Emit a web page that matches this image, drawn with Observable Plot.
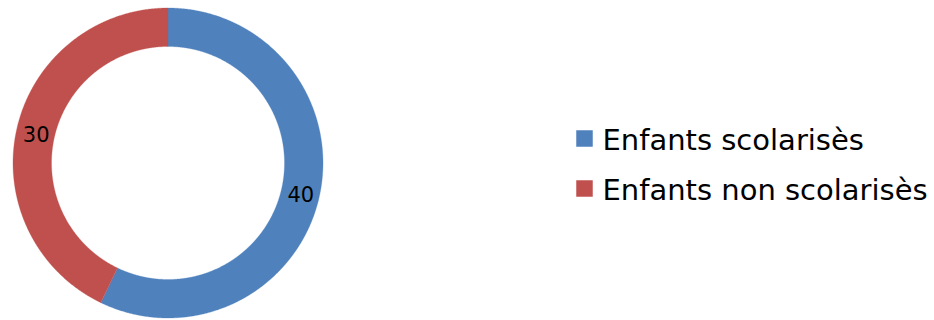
<!DOCTYPE html>
<html>
<head>
<meta charset="utf-8">
<script src="https://cdn.jsdelivr.net/npm/d3@7"></script>
<script src="https://cdn.jsdelivr.net/npm/@observablehq/plot@0.6"></script>
<style>
  html, body { margin: 0; padding: 0; background: #ffffff; }
  #chart svg { display: block; }
</style>
</head>
<body>
<div id="chart"></div>
<script>
// ---- data ----
const categories = ["Enfants scolarisès", "Enfants non scolarisès"];
const values = [40, 30];
const colors = ["#4F81BD", "#C0504D"];

// ---- layout (pixel-based units) ----
const W = 934, H = 320;
const cx = 168, cy = 163;       // donut centre in px
const R = 155, r = 116.5;       // outer / inner radius in px

const rows = categories.map((c, i) => ({cat: c, value: values[i]}));
const arcs = d3.pie().sort(null).value(d => d.value).startAngle(0).endAngle(2 * Math.PI)(rows);

// ring polygons: outer edge (x1,y1) and inner edge (x2,y2) along each arc
const ring = [];
for (const a of arcs) {
  const n = Math.max(2, Math.ceil((a.endAngle - a.startAngle) / 0.005));
  for (let k = 0; k <= n; k++) {
    const t = a.startAngle + (a.endAngle - a.startAngle) * k / n;
    ring.push({
      cat: a.data.cat,
      x1: R * Math.sin(t), y1: R * Math.cos(t),
      x2: r * Math.sin(t), y2: r * Math.cos(t)
    });
  }
}

// value labels at the middle of each ring segment
const labels = arcs.map(a => {
  const t = (a.startAngle + a.endAngle) / 2, m = (R + r) / 2;
  return {cat: a.data.cat, value: a.data.value, x: m * Math.sin(t), y: m * Math.cos(t)};
});

const font = "'DejaVu Sans', Verdana, sans-serif";

const chart = Plot.plot({
  width: W,
  height: H,
  margin: 0,
  style: {fontFamily: font, background: "#ffffff", overflow: "visible"},
  x: {domain: [-cx, W - cx], axis: null},
  y: {domain: [cy - H, cy], axis: null},
  color: {domain: categories, range: colors},
  marks: [
    Plot.area(ring, {x1: "x1", y1: "y1", x2: "x2", y2: "y2", z: "cat", fill: "cat", stroke: "cat", strokeWidth: 0.3}),
    Plot.text(labels, {x: "x", y: "y", text: d => String(d.value), fontSize: 21, fill: "#000000",
      textAnchor: "middle", lineAnchor: "middle", dy: 2}),
    // legend
    Plot.dot(rows, {x: () => 584 - cx, y: (d, i) => cy - (138 + 50 * i), symbol: "square", r: 9.3, fill: "cat"}),
    Plot.text(rows, {x: () => 602 - cx, y: (d, i) => cy - (140 + 50 * i), text: "cat", fontSize: 29,
      fill: "#000000", textAnchor: "start", lineAnchor: "middle"})
  ]
});

document.getElementById("chart").appendChild(chart);
</script>
</body>
</html>
